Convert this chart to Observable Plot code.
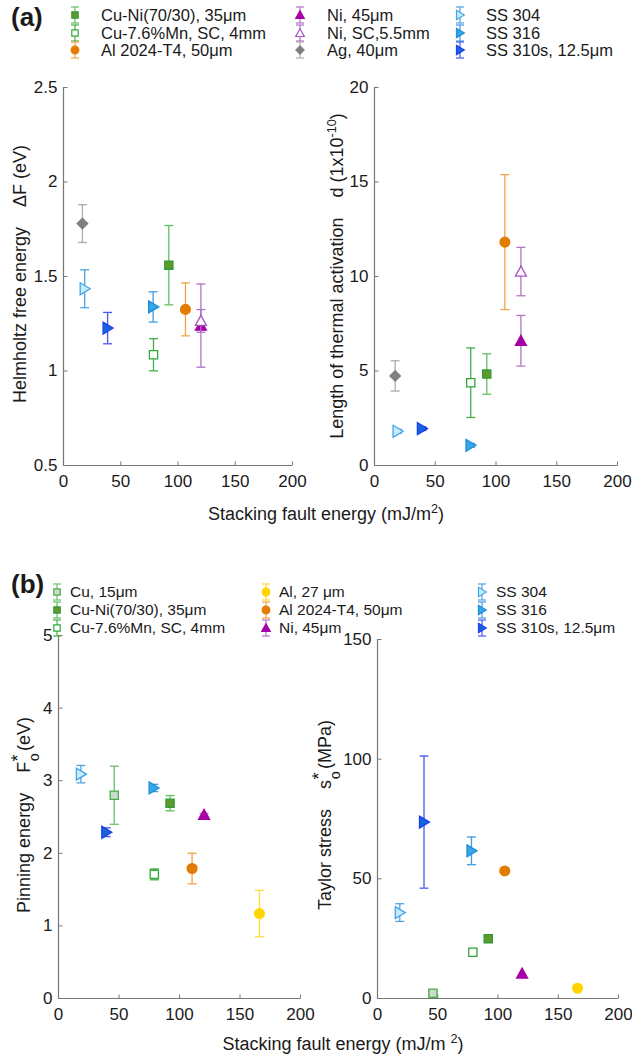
<!DOCTYPE html>
<html>
<head>
<meta charset="utf-8">
<script src="https://cdn.jsdelivr.net/npm/d3@7"></script>
<script src="https://cdn.jsdelivr.net/npm/@observablehq/plot@0.6"></script>
<style>
  html, body { margin: 0; padding: 0; background: #fff; }
  #root { position: relative; width: 632px; height: 1058px; overflow: hidden;
          font-family: "Liberation Sans", Arial, Helvetica, sans-serif; color: #1a1a1a; }
  .ylab { position: absolute; white-space: nowrap; transform: translate(-50%, -50%) rotate(-90deg); font-size: 18px; }
  .xlab { position: absolute; white-space: nowrap; transform: translate(-50%, -50%); font-size: 18px; }
  .tag { position: absolute; font-weight: bold; font-size: 26px; transform: translateY(-50%); }
  .leg { position: absolute; white-space: nowrap; transform: translateY(-50%); }
  .stack { position: relative; display: inline-block; width: 0.6em; height: 0; }
  .stack .up { position: absolute; left: 0.02em; top: -1.17em; line-height: 1; font-size: 1em; }
  .stack .dn { position: absolute; left: 0.05em; top: -0.18em; line-height: 1; font-size: 0.8em; }
  sup.s { font-size: 0.7em; }
</style>
</head>
<body>
<div id="root"></div>
<script>
// ---------------- DATA ----------------
const xTicks = [0, 50, 100, 150, 200];

const legendA_keys = ["CuNi", "CuMn", "Al2024", "Ni45", "NiSC", "Ag", "SS304", "SS316", "SS310s"];
const legendA_labels = ["Cu-Ni(70/30), 35μm", "Cu-7.6%Mn, SC, 4mm", "Al 2024-T4, 50μm",
                        "Ni, 45μm", "Ni, SC,5.5mm", "Ag, 40μm",
                        "SS 304", "SS 316", "SS 310s, 12.5μm"];
const legendB_keys = ["Cu15", "CuNi", "CuMn", "Al27", "Al2024", "Ni45", "SS304", "SS316", "SS310s"];
const legendB_labels = ["Cu, 15μm", "Cu-Ni(70/30), 35μm", "Cu-7.6%Mn, SC, 4mm",
                        "Al, 27 μm", "Al 2024-T4, 50μm", "Ni, 45μm",
                        "SS 304", "SS 316", "SS 310s, 12.5μm"];

// (a) left: Helmholtz free energy ΔF (eV)
const dF_mat = ["Ag", "SS304", "SS310s", "SS316", "CuMn", "CuNi", "Al2024", "Ni45", "NiSC"];
const dF_sfe = [16.5, 18.5, 38.5, 78.3, 78.6, 92, 106.5, 120, 120];
const dF_val = [1.78, 1.435, 1.227, 1.339, 1.086, 1.56, 1.326, 1.24, 1.265];
const dF_err = [0.10, 0.10, 0.083, 0.08, 0.085, 0.21, 0.14, 0.22, 0.06];
const dF_ticks = [0.5, 1, 1.5, 2, 2.5];

// (a) right: length of thermal activation d (1x10^-10)
const d_mat = ["Ag", "SS304", "SS310s", "SS316", "CuMn", "CuNi", "Al2024", "Ni45", "NiSC"];
const d_sfe = [17, 19, 39, 79, 79.2, 92.4, 107.3, 120.5, 120.5];
const d_val = [4.74, 1.81, 1.95, 1.07, 4.38, 4.84, 11.82, 6.6, 10.26];
const d_err = [0.8, 0.1, 0.1, 0.1, 1.84, 1.07, 3.57, 1.34, 1.28];
const d_ticks = [0, 5, 10, 15, 20];

// (b) left: pinning energy F0* (eV)
const F_mat = ["SS304", "SS310s", "Cu15", "SS316", "CuMn", "CuNi", "Al2024", "Ni45", "Al27"];
const F_sfe = [18.5, 39.5, 46.1, 78.6, 79.2, 92.2, 110.4, 120.3, 166.1];
const F_val = [3.09, 2.29, 2.80, 2.90, 1.71, 2.69, 1.79, 2.53, 1.17];
const F_err = [0.12, 0.06, 0.40, 0.05, 0.075, 0.105, 0.21, 0.02, 0.32];
const F_ticks = [0, 1, 2, 3, 4, 5];

// (b) right: Taylor stress s0* (MPa)
const s_mat = ["SS304", "SS310s", "Cu15", "SS316", "CuMn", "CuNi", "Al2024", "Ni45", "Al27"];
const s_sfe = [18.5, 38.6, 46, 78, 79.1, 91.9, 105.6, 120, 166];
const s_val = [35.9, 73.7, 2.2, 61.7, 19.3, 25, 53.3, 10.4, 4.3];
const s_err = [3.7, 27.6, 0.8, 5.8, 1.5, 0.8, 0, 0, 0];
const s_ticks = [0, 50, 100, 150];

// ---------------- SYMBOLS ----------------
const R = size => Math.sqrt(size / Math.PI);
const symSquare = { draw(c, s) { const r = R(s) * 0.82; c.moveTo(-r, -r); c.lineTo(r, -r); c.lineTo(r, r); c.lineTo(-r, r); c.closePath(); } };
const symCircle = { draw(c, s) { const r = R(s) * 0.98; c.moveTo(r, 0); c.arc(0, 0, r, 0, 2 * Math.PI); } };
const symDiamond = { draw(c, s) { const r = R(s) * 1.05; c.moveTo(0, -r); c.lineTo(r, 0); c.lineTo(0, r); c.lineTo(-r, 0); c.closePath(); } };
const symTriUp = { draw(c, s) { const r = R(s); c.moveTo(0, -1.1 * r); c.lineTo(1.1 * r, 0.9 * r); c.lineTo(-1.1 * r, 0.9 * r); c.closePath(); } };
const symTriRight = { draw(c, s) { const r = R(s); c.moveTo(1.1 * r, 0); c.lineTo(-0.9 * r, -1.2 * r); c.lineTo(-0.9 * r, 1.2 * r); c.closePath(); } };
const symCap = { draw(c, s) { const r = R(s); c.moveTo(-r, 0); c.lineTo(r, 0); } };
const symTickUp = { draw(c, s) { const r = R(s); c.moveTo(0, 0); c.lineTo(0, -r); } };
const symTickRight = { draw(c, s) { const r = R(s); c.moveTo(0, 0); c.lineTo(r, 0); } };

const look = {
  CuNi:   { sym: symSquare,   fill: "#5f9a2c", stroke: "#2f9a36", err: "#5fbf5f" },
  CuMn:   { sym: symSquare,   fill: "#ffffff", stroke: "#2fa83a", err: "#45b045" },
  Cu15:   { sym: symSquare,   fill: "#c9dcc9", stroke: "#4aaa4a", err: "#6cbf6c" },
  Al2024: { sym: symCircle,   fill: "#e27c00", stroke: "#e27c00", err: "#f4a24a" },
  Al27:   { sym: symCircle,   fill: "#ffd500", stroke: "#ffd500", err: "#ffdc3c" },
  Ni45:   { sym: symTriUp,    fill: "#a600a6", stroke: "#a600a6", err: "#b472c8" },
  NiSC:   { sym: symTriUp,    fill: "#ffffff", stroke: "#a555c0", err: "#b472c8" },
  Ag:     { sym: symDiamond,  fill: "#7f7f7f", stroke: "#7f7f7f", err: "#ababab" },
  SS304:  { sym: symTriRight, fill: "#c6ecfb", stroke: "#43a4e6", err: "#4da2e2" },
  SS316:  { sym: symTriRight, fill: "#35a6e6", stroke: "#1f8ed8", err: "#3f9be0" },
  SS310s: { sym: symTriRight, fill: "#1664d8", stroke: "#1e3ff0", err: "#4657f2" }
};

// ---------------- LAYOUT ----------------
const root = document.getElementById("root");
const FONT = '"Liberation Sans", Arial, Helvetica, sans-serif';
const AX = "#777";

function rows(mat, x, y, e) { return mat.map((m, i) => ({ m, x: x[i], y: y[i], e: e[i] })); }

function panel({ x0, x1, y0, y1, yDomain, yTicks, data }) {
  const ml = 45, mr = 14, mt = 10, mb = 30;
  const marks = [
    Plot.ruleX([0], { stroke: AX, strokeWidth: 1.2 }),
    Plot.ruleY([yDomain[0]], { stroke: AX, strokeWidth: 1.2 }),
    Plot.dot(xTicks, { x: d => d, y: () => yDomain[0], symbol: symTickUp, r: 4, stroke: AX, strokeWidth: 1 }),
    Plot.dot(yTicks, { x: () => 0, y: d => d, symbol: symTickRight, r: 4, stroke: AX, strokeWidth: 1 }),
    Plot.axisX({ ticks: xTicks, tickSize: 0, tickPadding: 9, tickFormat: d => String(d), label: null }),
    Plot.axisY({ ticks: yTicks, tickSize: 0, tickPadding: 6, tickFormat: d => String(d), label: null })
  ];
  for (const d of data) {
    const L = look[d.m];
    if (d.e > 0) {
      marks.push(Plot.ruleX([d], { x: "x", y1: v => v.y - v.e, y2: v => v.y + v.e, stroke: L.err, strokeWidth: 1.3 }));
      marks.push(Plot.dot([d], { x: "x", y: v => v.y - v.e, symbol: symCap, r: 4.5, stroke: L.err, strokeWidth: 1.3 }));
      marks.push(Plot.dot([d], { x: "x", y: v => v.y + v.e, symbol: symCap, r: 4.5, stroke: L.err, strokeWidth: 1.3 }));
    }
    marks.push(Plot.dot([d], { x: "x", y: "y", symbol: L.sym, r: 5, fill: L.fill, stroke: L.stroke, strokeWidth: 1.3 }));
  }
  const svg = Plot.plot({
    width: (x1 - x0) + ml + mr,
    height: (y1 - y0) + mt + mb,
    marginLeft: ml, marginRight: mr, marginTop: mt, marginBottom: mb,
    x: { domain: [0, 200] },
    y: { domain: yDomain },
    style: { fontFamily: FONT, fontSize: "17px", color: "#1a1a1a", background: "transparent", overflow: "visible" },
    marks
  });
  svg.style.position = "absolute";
  svg.style.left = (x0 - ml) + "px";
  svg.style.top = (y0 - mt) + "px";
  root.appendChild(svg);
}

panel({ x0: 63, x1: 292, y0: 87, y1: 465, yDomain: [0.5, 2.5], yTicks: dF_ticks, data: rows(dF_mat, dF_sfe, dF_val, dF_err) });
panel({ x0: 374, x1: 617, y0: 87, y1: 465, yDomain: [0, 20], yTicks: d_ticks, data: rows(d_mat, d_sfe, d_val, d_err) });
panel({ x0: 58, x1: 300, y0: 635, y1: 998, yDomain: [0, 5], yTicks: F_ticks, data: rows(F_mat, F_sfe, F_val, F_err) });
panel({ x0: 377, x1: 618, y0: 639, y1: 998, yDomain: [0, 150], yTicks: s_ticks, data: rows(s_mat, s_sfe, s_val, s_err) });

function addHTML(cls, html, left, top, extra) {
  const el = document.createElement("div");
  el.className = cls;
  el.innerHTML = html;
  el.style.left = left + "px";
  el.style.top = top + "px";
  if (extra) Object.assign(el.style, extra);
  root.appendChild(el);
  return el;
}

const SP4 = "&nbsp;&nbsp;&nbsp;&nbsp;";
const STACK = "<span class='stack'><span class='up'>*</span><span class='dn'>o</span></span>";
addHTML("ylab", "Helmholtz free energy" + SP4 + "ΔF (eV)", 20, 274);
addHTML("ylab", "Length of thermal activation" + SP4 + "d (1x10<sup class='s'>-10</sup>)", 336, 276);
addHTML("ylab", "Pinning energy" + SP4 + "F" + STACK + "(eV)", 24, 815);
addHTML("ylab", "Taylor stress" + SP4 + "s" + STACK + "(MPa)", 325, 815);
addHTML("xlab", "Stacking fault energy (mJ/m<sup class='s'>2</sup>)", 326, 513);
addHTML("xlab", "Stacking fault energy (mJ/m <sup class='s'>2</sup>)", 343, 1043);

addHTML("tag", "(a)", 11, 17);
addHTML("tag", "(b)", 11, 584);

function glyph(key) {
  const L = look[key];
  const w = 16, h = 20, cx = 8, cy = 10;
  const p = d3.path();
  const r = 3.9;
  L.sym.draw(p, r * r * Math.PI);
  return `<svg width="${w}" height="${h}" style="vertical-align:middle;overflow:visible">
    <line x1="${cx}" x2="${cx}" y1="2" y2="18" stroke="${L.err}" stroke-width="1.2"/>
    <line x1="${cx - 4}" x2="${cx + 4}" y1="2" y2="2" stroke="${L.err}" stroke-width="1.2"/>
    <line x1="${cx - 4}" x2="${cx + 4}" y1="18" y2="18" stroke="${L.err}" stroke-width="1.2"/>
    <path transform="translate(${cx},${cy})" d="${p}" fill="${L.fill}" stroke="${L.stroke}" stroke-width="1.2"/>
  </svg>`;
}
function legend(keys, labels, markerX, textX, rowY, fontSize) {
  keys.forEach((k, i) => {
    const col = Math.floor(i / 3), row = i % 3;
    const y = rowY[row];
    addHTML("leg", glyph(k), markerX[col] - 8, y, { lineHeight: "0" });
    addHTML("leg", labels[i], textX[col], y, { fontSize: fontSize + "px" });
  });
}
legend(legendA_keys, legendA_labels, [75, 300, 460], [101, 327, 486], [15, 33, 50], 16.5);
legend(legendB_keys, legendB_labels, [57, 266, 482], [70, 279, 496], [592, 610, 628], 15.5);
</script>
</body>
</html>
